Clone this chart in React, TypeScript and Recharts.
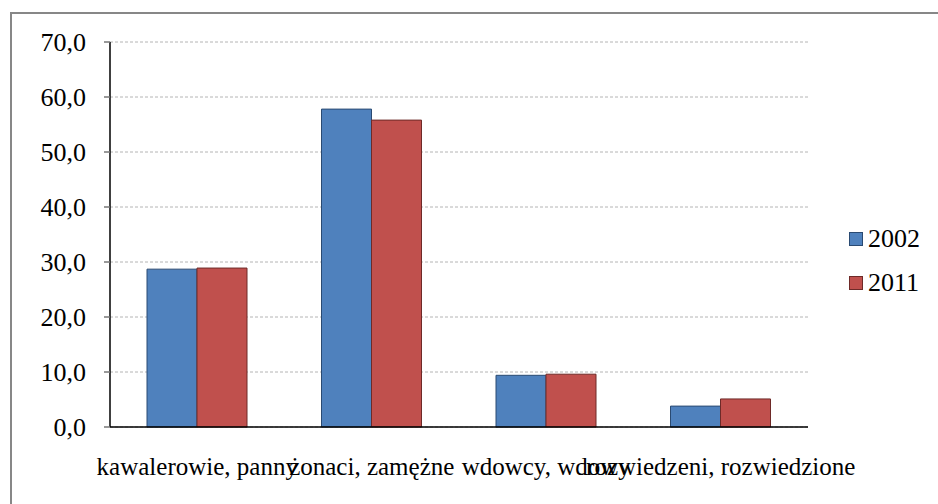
import React from 'react'
import { BarChart, Bar, XAxis, YAxis, CartesianGrid, Legend } from 'recharts'

const categories = ['kawalerowie, panny', 'żonaci, zamężne', 'wdowcy, wdowy', 'rozwiedzeni, rozwiedzione']
const values2002 = [28.7, 57.8, 9.4, 3.8]
const values2011 = [28.9, 55.8, 9.6, 5.1]
const yTicks = [0, 10, 20, 30, 40, 50, 60, 70]
const edgeTicks = categories.map((_, i) => i).concat(categories.length)

const series = [
  { key: 'y2002', name: '2002', fill: '#4F81BD', stroke: '#2A4A72' },
  { key: 'y2011', name: '2011', fill: '#C0504D', stroke: '#6E2A28' },
]

const data = categories.map((c, i) => ({
  category: c,
  y2002: values2002[i],
  y2011: values2011[i],
}))

const FONT = 'Liberation Serif, DejaVu Serif, serif'

const fmt = (v: number) => v.toFixed(1).replace('.', ',')

const LegendBox = () => (
  <div style={{ fontFamily: FONT, fontSize: 26, color: '#000' }}>
    {series.map((s) => (
      <div key={s.key} style={{ display: 'flex', alignItems: 'center', height: 44 }}>
        <span
          style={{
            display: 'inline-block',
            width: 12,
            height: 12,
            background: s.fill,
            border: `1px solid ${s.stroke}`,
            marginRight: 5,
          }}
        />
        <span>{s.name}</span>
      </div>
    ))}
  </div>
)

const App: React.FC = () => {
  return (
    <div style={{ position: 'absolute', left: 0, top: 0, width: 938, height: 504, background: '#fff', fontFamily: FONT }}>
      <div
        style={{
          position: 'absolute',
          left: 10,
          top: 12,
          width: 940,
          height: 500,
          borderTop: '2px solid #878787',
          borderLeft: '2px solid #878787',
        }}
      />
      <div style={{ position: 'absolute', left: 0, top: 0 }}>
        <BarChart
          width={938}
          height={504}
          data={data}
          margin={{ top: 42, right: 130, bottom: 32, left: 0 }}
          barGap={0}
          barSize={50}
          style={{ fontFamily: FONT }}
        >
          <CartesianGrid vertical={false} stroke="#b4b4b4" strokeDasharray="3 2" />
          <XAxis
            dataKey="category"
            height={45}
            interval={0}
            axisLine={{ stroke: '#000', strokeWidth: 1.5 }}
            tickLine={false}
            tickMargin={24}
            tick={{ fill: '#000', fontSize: 25, fontFamily: FONT }}
          />
          <XAxis
            xAxisId="edge"
            type="number"
            domain={[0, categories.length]}
            ticks={edgeTicks}
            height={0}
            axisLine={false}
            tick={false}
            tickSize={8}
            tickLine={{ stroke: '#777', strokeWidth: 1.5 }}
          />
          <YAxis
            width={110}
            domain={[0, 70]}
            ticks={yTicks}
            tickFormatter={fmt}
            axisLine={{ stroke: '#000', strokeWidth: 1.5 }}
            tickLine={{ stroke: '#777', strokeWidth: 1.5 }}
            tickSize={6}
            tickMargin={18}
            tick={{ fill: '#000', fontSize: 26, fontFamily: FONT }}
          />
          <Legend
            layout="vertical"
            align="center"
            verticalAlign="middle"
            wrapperStyle={{ left: 849, top: 217, width: 90 }}
            content={() => <LegendBox />}
          />
          {series.map((s) => (
            <Bar
              key={s.key}
              dataKey={s.key}
              name={s.name}
              fill={s.fill}
              stroke={s.stroke}
              strokeWidth={1}
              isAnimationActive={false}
            />
          ))}
        </BarChart>
      </div>
    </div>
  )
}

export default App
